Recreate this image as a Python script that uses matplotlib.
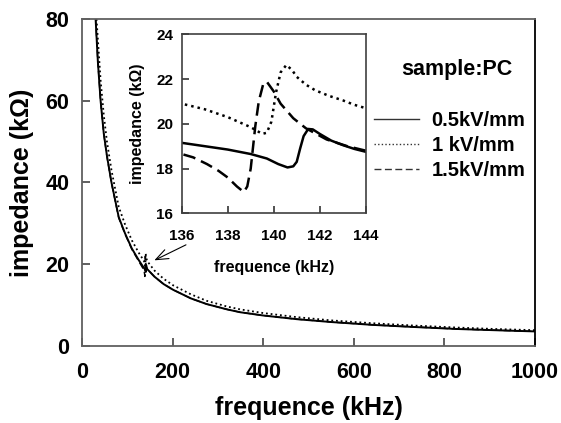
import matplotlib.pyplot as plt
from matplotlib.lines import Line2D

plt.rcParams['font.family'] = ['Liberation Sans', 'DejaVu Sans']
plt.rcParams['font.weight'] = 'bold'

# main curves (frequency kHz, impedance kOhm)
f_05 = [30, 35, 41, 48, 55, 65, 81, 95, 110, 125,
        136, 137, 138, 139, 139.7, 140.2, 140.6, 140.85, 141.0, 141.15,
        141.3, 141.5, 141.7, 142.0, 142.5, 143.0, 143.5, 144,
        160, 180, 201, 240, 275, 320, 349, 400, 474, 550, 642, 730, 827, 910, 1000]
z_05 = [80, 69.5, 60, 52, 46.5, 40, 31.5, 27.5, 23.8, 21.0,
        19.15, 19.0, 18.85, 18.65, 18.45, 18.2, 18.05, 18.1, 18.3, 18.9,
        19.45, 19.77, 19.75, 19.55, 19.25, 19.05, 18.88, 18.75,
        16.9, 15.1, 13.7, 11.6, 10.2, 8.9, 8.2, 7.4, 6.5, 5.8, 5.1, 4.6, 4.1, 3.8, 3.5]

f_1 = [32, 35, 41, 48, 55, 65, 81, 95, 110, 125,
       136, 137, 138, 139, 139.5, 139.7, 139.9, 140.1, 140.3, 140.55,
       140.8, 141.0, 141.4, 141.8, 142.4, 143.0, 143.5, 144,
       160, 180, 201, 240, 275, 320, 349, 400, 474, 550, 642, 730, 827, 910, 1000]
z_1 = [80, 75, 65, 56.5, 50, 43, 34, 29.7, 25.8, 22.8,
       20.9, 20.65, 20.3, 19.85, 19.55, 19.6, 20.1, 21.4, 22.3, 22.63,
       22.4, 22.1, 21.75, 21.5, 21.25, 21.05, 20.85, 20.7,
       18.4, 16.4, 14.8, 12.6, 11.0, 9.6, 8.9, 8.0, 7.0, 6.2, 5.5, 4.95, 4.45, 4.1, 3.8]

f_15 = [30, 35, 41, 48, 55, 65, 81, 95, 110, 125,
        136, 136.5, 137.1, 137.6, 138.0, 138.4, 138.7, 138.85, 139.0, 139.2,
        139.35, 139.55, 139.7, 140.0, 140.3, 140.85, 141.4, 142.3, 143.2, 144,
        160, 180, 201, 240, 275, 320, 349, 400, 474, 550, 642, 730, 827, 910, 1000]
z_15 = [80, 69.3, 59.8, 51.8, 46.3, 39.8, 31.3, 27.3, 23.6, 20.7,
        18.65, 18.5, 18.2, 17.9, 17.6, 17.2, 16.95, 17.2, 18.0, 19.9,
        21.0, 21.8, 21.88, 21.45, 20.9, 20.25, 19.8, 19.3, 19.0, 18.8,
        16.9, 15.1, 13.7, 11.6, 10.2, 8.9, 8.2, 7.4, 6.5, 5.8, 5.1, 4.6, 4.1, 3.8, 3.5]

labels = ['0.5kV/mm', '1 kV/mm', '1.5kV/mm']
styles = ['-', (0, (1, 1.6)), (0, (5, 2.5))]

fig = plt.figure(figsize=(5.61, 4.23), dpi=100)
ax = fig.add_axes([0.1462, 0.1827, 0.8075, 0.7724])

ax.plot(f_15, z_15, color='black', lw=1.0, linestyle=styles[2])
ax.plot(f_1, z_1, color='black', lw=1.3, linestyle=styles[1])
ax.plot(f_05, z_05, color='black', lw=1.4, linestyle=styles[0])

ax.set_xlim(0, 1000)
ax.set_ylim(0, 80)
ax.set_xticks([0, 200, 400, 600, 800, 1000])
ax.set_yticks([0, 20, 40, 60, 80])
ax.tick_params(direction='in', length=6, width=1.2, labelsize=15.5, color='#444')
ax.tick_params(axis='x', pad=12)
ax.tick_params(axis='y', pad=9)
for s in ['left', 'bottom', 'top']:
    ax.spines[s].set_color('#606060')
    ax.spines[s].set_linewidth(1.3)
ax.spines['right'].set_color('black')
ax.spines['right'].set_linewidth(1.3)
ax.set_xlabel('frequence (kHz)', fontsize=18, fontweight='bold', labelpad=9)
ax.set_ylabel('impedance (k\u03a9)', fontsize=18, fontweight='bold', labelpad=8)

ax.annotate('', xy=(154, 20.6), xytext=(235, 25),
            arrowprops=dict(arrowstyle='->, head_length=0.9, head_width=0.35',
                            color='black', lw=0.8))

ax.text(0.828, 0.844, 'sample:PC', transform=ax.transAxes, fontsize=15.5,
        fontweight='bold', ha='center', va='center')
handles = [Line2D([], [], color='#333', lw=1, linestyle=st) for st in styles]
ax.legend(handles, labels, loc='upper left', bbox_to_anchor=(0.645, 0.718),
          frameon=False, fontsize=14.5, handlelength=2.2, handletextpad=0.65,
          labelspacing=0.3, borderaxespad=0, borderpad=0)

# inset
ins = fig.add_axes([0.3239, 0.4957, 0.3280, 0.4232])
ins.plot(f_05, z_05, color='black', lw=1.8, linestyle=styles[0])
ins.plot(f_1, z_1, color='black', lw=1.8, linestyle=styles[1])
ins.plot(f_15, z_15, color='black', lw=1.8, linestyle=styles[2])
ins.set_xlim(136, 144)
ins.set_ylim(16, 24)
ins.set_xticks([136, 138, 140, 142, 144])
ins.set_yticks([16, 18, 20, 22, 24])
ins.tick_params(direction='in', length=5, width=1.2, labelsize=11, color='#333')
ins.tick_params(axis='x', pad=11.5)
ins.tick_params(axis='y', pad=6)
for s in ins.spines.values():
    s.set_color('#404040')
    s.set_linewidth(1.2)
ins.set_xlabel('frequence (kHz)', fontsize=11.5, fontweight='bold', labelpad=12)
ins.set_ylabel('impedance (k\u03a9)', fontsize=11.5, fontweight='bold', labelpad=8)

fig.savefig('out.png', dpi=100)
